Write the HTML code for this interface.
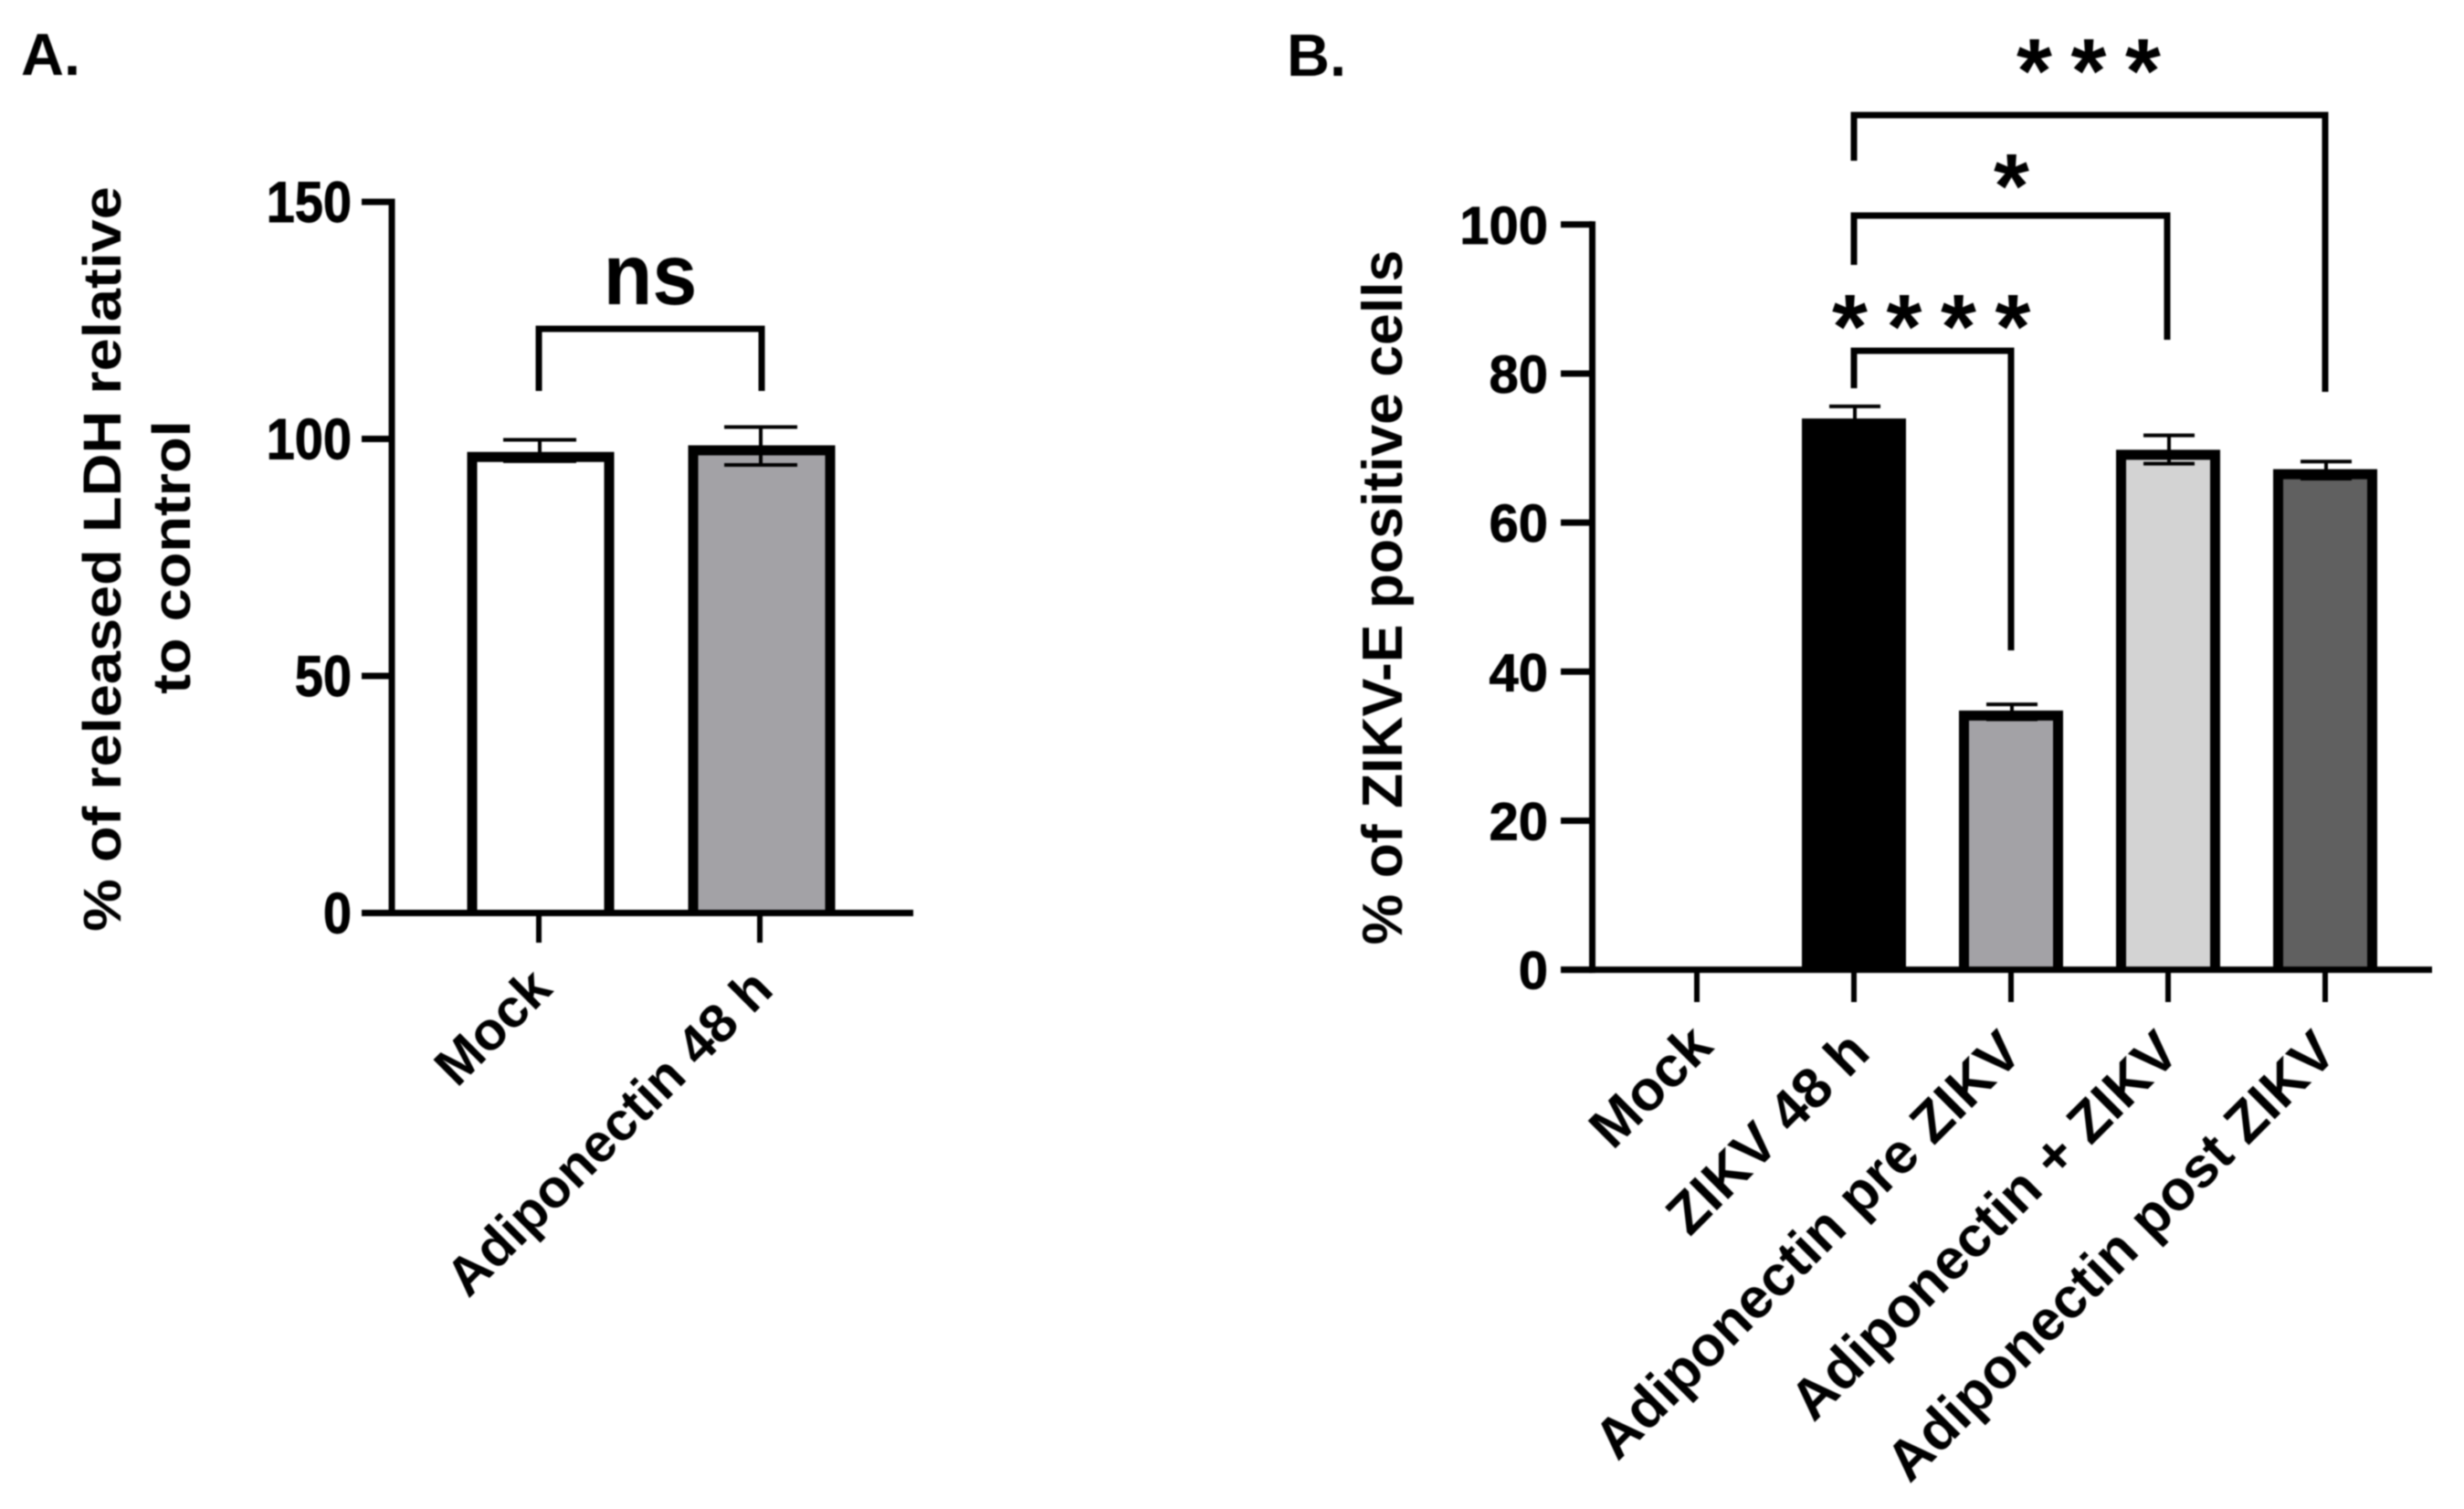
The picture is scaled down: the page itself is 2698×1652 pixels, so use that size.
<!DOCTYPE html>
<html lang="en">
<head>
<meta charset="utf-8">
<title>LDH release and ZIKV-E positive cells</title>
<style>
html,body{margin:0;padding:0;background:#fff;}
svg{display:block;filter:blur(0.7px);}
text{font-family:"Liberation Sans",sans-serif;font-weight:bold;fill:#000;}
.panel{font-size:65px;}
.bracket{fill:none;stroke:#000;stroke-width:7;stroke-linejoin:miter;}
.digit{stroke:#000;stroke-width:0.8;}
</style>
</head>
<body>
<svg id="fig" xmlns="http://www.w3.org/2000/svg" width="2698" height="1652" viewBox="0 0 2698 1652">
  <rect x="0" y="0" width="2698" height="1652" fill="#fff"/>
  <text class="panel" x="23" y="82">A.</text>
  <text class="panel" x="1409" y="83">B.</text>

  <text font-size="58" text-anchor="middle" transform="translate(132,612) scale(1,1.12) rotate(-90)">% of released LDH relative</text>
  <text font-size="58" text-anchor="middle" transform="translate(208,610) scale(1,1.12) rotate(-90)">to control</text>
  <text font-size="62.5" text-anchor="middle" transform="translate(1535,654) rotate(-90)">% of ZIKV-E positive cells</text>

  <g id="plotA"></g>
  <g id="plotB"></g>

  <path class="bracket" d="M590 428V360H834V428"/>
  <text font-size="88" text-anchor="middle" transform="translate(712,333) scale(1,1.08)">ns</text>

  <path class="bracket" d="M2030 425V384H2202V712"/>
  <path class="bracket" d="M2030 290V236H2373V372"/>
  <path class="bracket" d="M2030 176V126H2546V429"/>
  <text font-size="100" letter-spacing="20.6" x="2006" y="392">****</text>
  <text font-size="100" x="2183" y="238">*</text>
  <text font-size="100" letter-spacing="20.6" x="2208" y="112">***</text>
</svg>
<script>
const categoriesA = ['Mock', 'Adiponectin 48 h'];
const valuesA = [96.2, 97.6];
const errorHighA = [99.8, 102.5];
const errorLowA = [95.3, 94.5];
const fillsA = ['#ffffff', '#a3a2a6'];
const ticksA = [0, 50, 100, 150];

const categoriesB = ['Mock', 'ZIKV 48 h', 'Adiponectin pre ZIKV', 'Adiponectin + ZIKV', 'Adiponectin post ZIKV'];
const valuesB = [0, 73.3, 34.1, 69.1, 66.5];
const errorHighB = [0, 75.6, 35.6, 71.7, 68.2];
const errorLowB = [0, 71.5, 33.6, 67.9, 65.9];
const fillsB = ['#ffffff', '#000000', '#a3a2a6', '#d3d3d3', '#606060'];
const ticksB = [0, 20, 40, 60, 80, 100];

const NS = 'http://www.w3.org/2000/svg';
function mk(parent, tag, attrs, content) {
  const el = document.createElementNS(NS, tag);
  for (const k in attrs) el.setAttribute(k, attrs[k]);
  if (content !== undefined) el.textContent = content;
  parent.appendChild(el);
  return el;
}
function rule(parent, x1, y1, x2, y2, w) {
  return mk(parent, 'line', {x1: x1, y1: y1, x2: x2, y2: y2, stroke: '#000', 'stroke-width': w});
}

function drawPlot(cfg) {
  const g = document.getElementById(cfg.id);
  const y = v => cfg.y0 - v * cfg.yScale;
  const x = i => cfg.x0 + i * cfg.xStep;
  const top = y(cfg.ticks[cfg.ticks.length - 1]);

  cfg.ticks.forEach(t => {
    const tick = rule(g, cfg.tickLeft, y(t), cfg.axisX, y(t), 7);
    
    
    const transform = 'translate(' + cfg.labelRight + ',' + (y(t) + cfg.labelDrop) + ') scale(1,' + cfg.digitStretch + ')';
    const label = mk(g, 'text', {'class': 'digit', 'font-size': cfg.digitFont, 'text-anchor': 'end', transform: transform}, String(t));
    
    
  });

  cfg.categories.forEach((c, i) => {
    const cx = x(i);
    const v = cfg.values[i];
    if (v > 0) {
      const bar = mk(g, 'path', {
        d: 'M' + (cx + cfg.barShift - cfg.barWidth / 2 + cfg.barStroke / 2) + ' ' + cfg.y0 +
           'V' + y(v) +
           'H' + (cx + cfg.barShift + cfg.barWidth / 2 - cfg.barStroke / 2) +
           'V' + cfg.y0,
        fill: cfg.fills[i],
        stroke: '#000',
        'stroke-width': cfg.barStroke
      });
      
      

      const stem = rule(g, cx + 1, y(cfg.errorHigh[i]), cx + 1, y(cfg.errorLow[i]), 4);
      
      
      const capHigh = rule(g, cx + 1 - cfg.capHalf, y(cfg.errorHigh[i]), cx + 1 + cfg.capHalf, y(cfg.errorHigh[i]), 4);
      
      
      const capLow = rule(g, cx + 1 - cfg.capHalf, y(cfg.errorLow[i]), cx + 1 + cfg.capHalf, y(cfg.errorLow[i]), 4);
      
      
    }

    const xt = rule(g, cx, cfg.y0, cx, cfg.tickBottom, 6);
    
    

    const dx = c.length < 17 ? cfg.shortDx : cfg.longDx;
    const dy = c.length < 5 ? cfg.mockDy : cfg.labelY;
    const xl = mk(g, 'text', {
      'font-size': cfg.catFont,
      'text-anchor': 'end',
      transform: 'translate(' + (cx + dx) + ',' + dy + ') rotate(' + cfg.catAngle + ')'
    }, c);
    
    
  });

  const yAxis = rule(g, cfg.axisX, top - 3.5, cfg.axisX, cfg.y0 + 3.5, 7);
  
  
  const xAxis = rule(g, cfg.tickLeft, cfg.y0, cfg.axisRight, cfg.y0, 7);
  
  
}

drawPlot({
  id: 'plotA', prefix: 'panel-a',
  categories: categoriesA, values: valuesA, errorHigh: errorHighA, errorLow: errorLowA, fills: fillsA, ticks: ticksA,
  y0: 999.5, yScale: 5.19, x0: 590, xStep: 242,
  axisX: 429, tickLeft: 396, axisRight: 1000, tickBottom: 1032,
  labelRight: 385, labelDrop: 22, digitStretch: 1.12, digitFont: 56,
  barWidth: 161, barStroke: 11, barShift: 2, capHalf: 40,
  catFont: 59, catAngle: -45, shortDx: 17, longDx: 17, labelY: 1086, mockDy: 1085
});

drawPlot({
  id: 'plotB', prefix: 'panel-b',
  categories: categoriesB, values: valuesB, errorHigh: errorHighB, errorLow: errorLowB, fills: fillsB, ticks: ticksB,
  y0: 1061.6, yScale: 8.158, x0: 1858, xStep: 172,
  axisX: 1743.5, tickLeft: 1709, axisRight: 2663, tickBottom: 1097,
  labelRight: 1695, labelDrop: 21, digitStretch: 1, digitFont: 58,
  barWidth: 114, barStroke: 11, barShift: 0, capHalf: 28,
  catFont: 62, catAngle: -45, shortDx: 20, longDx: 15, labelY: 1155, mockDy: 1148
});
</script>
</body>
</html>
